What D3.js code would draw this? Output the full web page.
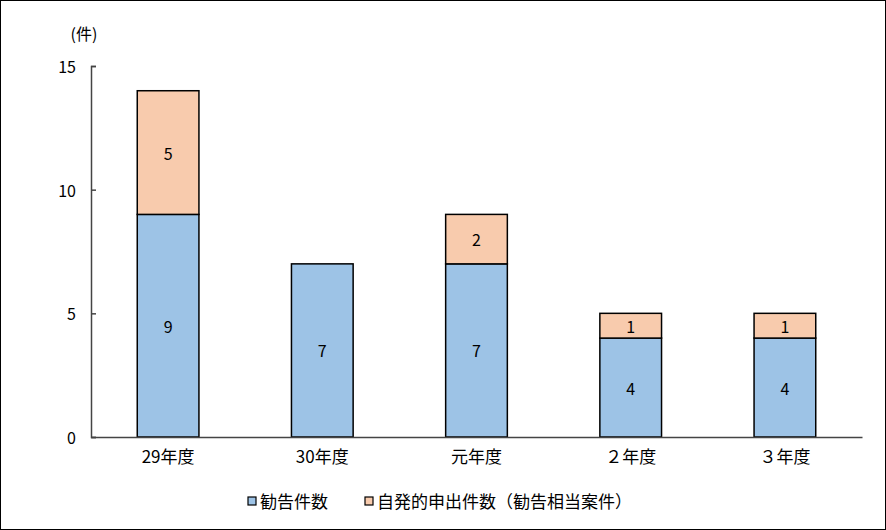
<!DOCTYPE html>
<html>
<head>
<meta charset="utf-8">
<script src="https://cdn.jsdelivr.net/npm/d3@7"></script>
<style>
  body { margin: 0; background: #fff; }
  svg { display: block; font-family: "Noto Sans CJK JP", "Noto Sans", sans-serif; }
</style>
</head>
<body>
<div class="container"></div>
<script>
const years = ["29年度", "30年度", "元年度", "２年度", "３年度"]
const kankoku = [9, 7, 7, 4, 4]
const jihatsu = [5, 0, 2, 1, 1]
const yTicks = [0, 5, 10, 15]
const seriesNames = ["勧告件数", "自発的申出件数（勧告相当案件）"]
const colors = ["#9DC3E6", "#F8CBAD"]

const w = 886
const h = 530
const plotLeft = 91, plotRight = 862, plotTop = 66, plotBottom = 437

const svg = d3.select(".container")
  .append("svg")
  .attr("width", w)
  .attr("height", h)

// frame
svg.append("rect")
  .attr("x", 0.5).attr("y", 0.5)
  .attr("width", w - 1).attr("height", h - 1)
  .attr("fill", "#fff")
  .attr("stroke", "#000")

const xScale = d3.scaleBand().domain(years).range([plotLeft, plotRight]).paddingInner(0.6).paddingOuter(0.3)
const yScale = d3.scaleLinear().domain([0, 15]).range([plotBottom, plotTop])

const stackData = years.map((y, i) => ({ year: y, kankoku: kankoku[i], jihatsu: jihatsu[i] }))
const stack = d3.stack().keys(["kankoku", "jihatsu"])(stackData)

const groups = svg.selectAll("g.series")
  .data(stack)
  .enter()
  .append("g")
  .attr("class", "series")
  .attr("fill", (d, i) => colors[i])

groups.selectAll("rect")
  .data(d => d.filter(s => s[1] - s[0] > 0))
  .enter()
  .append("rect")
  .attr("x", d => xScale(d.data.year))
  .attr("y", d => yScale(d[1]))
  .attr("width", xScale.bandwidth())
  .attr("height", d => yScale(d[0]) - yScale(d[1]))
  .attr("stroke", "#000")
  .attr("stroke-width", 1.5)

groups.selectAll("text")
  .data(d => d.filter(s => s[1] - s[0] > 0))
  .enter()
  .append("text")
  .attr("x", d => xScale(d.data.year) + xScale.bandwidth() / 2)
  .attr("y", d => (yScale(d[0]) + yScale(d[1])) / 2)
  .attr("text-anchor", "middle")
  .attr("dominant-baseline", "central")
  .attr("fill", "#000")
  .style("font-size", "16px")
  .text(d => d[1] - d[0])

// y axis
const yAxis = d3.axisRight(yScale).tickValues(yTicks).tickSize(5).tickFormat("")
const yG = svg.append("g")
  .attr("transform", "translate(" + plotLeft + ",0)")
  .call(yAxis)
yG.select(".domain").attr("stroke", "#444").attr("stroke-width", 1.5)
yG.selectAll(".tick line").attr("stroke", "#444").attr("stroke-width", 1.5)

svg.selectAll("text.ylab")
  .data(yTicks)
  .enter()
  .append("text")
  .attr("class", "ylab")
  .attr("x", 76)
  .attr("y", d => yScale(d))
  .attr("text-anchor", "end")
  .attr("dominant-baseline", "central")
  .style("font-size", "16px")
  .text(d => d)

// x axis
const xAxis = d3.axisBottom(xScale).tickSize(0).tickPadding(14)
const xG = svg.append("g")
  .attr("transform", "translate(0," + plotBottom + ")")
  .call(xAxis)
xG.select(".domain").attr("stroke", "#444").attr("stroke-width", 1.5)
xG.selectAll("text").style("font-size", "17px").style("font-family", "Noto Sans CJK JP").attr("fill", "#000")

svg.append("text")
  .attr("x", 84)
  .attr("y", 33)
  .attr("text-anchor", "middle")
  .attr("dominant-baseline", "central")
  .style("font-size", "16px")
  .text("(件)")

// legend
const legendX = [248, 365]
const legend = svg.selectAll("g.legend")
  .data(seriesNames)
  .enter()
  .append("g")
  .attr("class", "legend")
  .attr("transform", (d, i) => "translate(" + legendX[i] + ",500)")

legend.append("rect")
  .attr("x", 0)
  .attr("y", -3)
  .attr("width", 8)
  .attr("height", 8)
  .attr("fill", (d, i) => colors[i])
  .attr("stroke", "#000")
  .attr("stroke-width", 1.2)

legend.append("text")
  .attr("x", 12)
  .attr("y", 0)
  .attr("dominant-baseline", "central")
  .style("font-size", "17px")
  .text(d => d)
</script>
</body>
</html>
